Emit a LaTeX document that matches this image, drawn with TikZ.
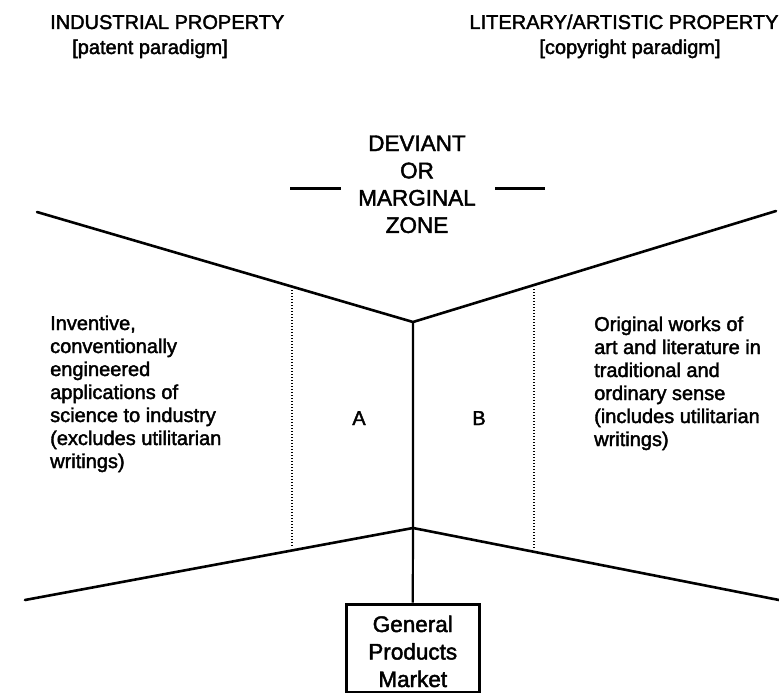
\documentclass[tikz,border=0pt]{standalone}
\usepackage{fontspec}
\setmainfont{Liberation Sans}[FakeBold=2]
\begin{document}
\begin{tikzpicture}[x=1pt,y=-1pt,
  mainline/.style={line width=2.6pt, line cap=round},
  centreline/.style={line width=2.2pt},
  dotline/.style={line width=1.3pt, dash pattern=on 1.2pt off 1.8pt},
  dashmark/.style={line width=3pt},
  headtext/.style={inner sep=0pt, font=\fontsize{20}{25}\selectfont},
  bodytext/.style={inner sep=0pt, font=\fontsize{20}{23}\selectfont},
  zonetext/.style={inner sep=0pt, font=\fontsize{22.5}{27.3}\selectfont},
  marketbox/.style={draw, line width=3pt, inner sep=0pt, minimum width=133.5pt,
    text height=28pt, text depth=60pt, font=\fontsize{22.5}{27.5}\selectfont}]
\useasboundingbox (0,0) rectangle (779,693);

% headings
\node[headtext, anchor=base west] (indhead) at (50,29)
  {\begin{tabular}[t]{@{}l@{}}INDUSTRIAL PROPERTY\\\hspace*{22pt}[patent paradigm]\end{tabular}};
\node[headtext, anchor=base] (lithead) at (624,29)
  {\begin{tabular}[t]{@{}c@{}}LITERARY/ARTISTIC PROPERTY\\\hspace*{12pt}[copyright paradigm]\end{tabular}};

% zone label
\node[zonetext, anchor=base] (zone) at (417,151)
  {\begin{tabular}[t]{@{}c@{}}DEVIANT\\OR\\MARGINAL\\ZONE\end{tabular}};
\coordinate (dl1) at (290,188);
\coordinate (dl2) at (341,188);
\coordinate (dr1) at (495,188);
\coordinate (dr2) at (545,188);
\draw[dashmark] (dl1) -- (dl2);
\draw[dashmark] (dr1) -- (dr2);

% frame coordinates
\coordinate (UL) at (37,212);
\coordinate (UC) at (413,322);
\coordinate (UR) at (776,211);
\coordinate (LL) at (25,600);
\coordinate (LC) at (413,528);
\coordinate (LR) at (779,600);
\coordinate (DAt) at (292,290);
\coordinate (DAb) at (292,547);
\coordinate (DBt) at (534,289);
\coordinate (DBb) at (534,549);

\draw[mainline] (UL) -- (UC) -- (UR);
\draw[mainline] (LL) -- (LC) -- (LR);
\draw[dotline] (DAt) -- (DAb);
\draw[dotline] (DBt) -- (DBb);

% side texts
\node[bodytext, anchor=base west] (lefttext) at (50,330)
  {\begin{tabular}[t]{@{}l@{}}Inventive,\\conventionally\\engineered\\applications of\\science to industry\\(excludes utilitarian\\writings)\end{tabular}};
\node[bodytext, anchor=base west] (righttext) at (594,331)
  {\begin{tabular}[t]{@{}l@{}}Original works of\\art and literature in\\traditional and\\ordinary sense\\(includes utilitarian\\writings)\end{tabular}};

\node[bodytext, anchor=base] (A) at (359,425) {A};
\node[bodytext, anchor=base] (B) at (479,425) {B};

% market box
\node[marketbox, anchor=base] (market) at (412.75,632)
  {\begin{tabular}[t]{@{}c@{}}General\\Products\\Market\end{tabular}};

\draw[centreline] (UC) -- (LC) -- (market.north);
\end{tikzpicture}
\end{document}
